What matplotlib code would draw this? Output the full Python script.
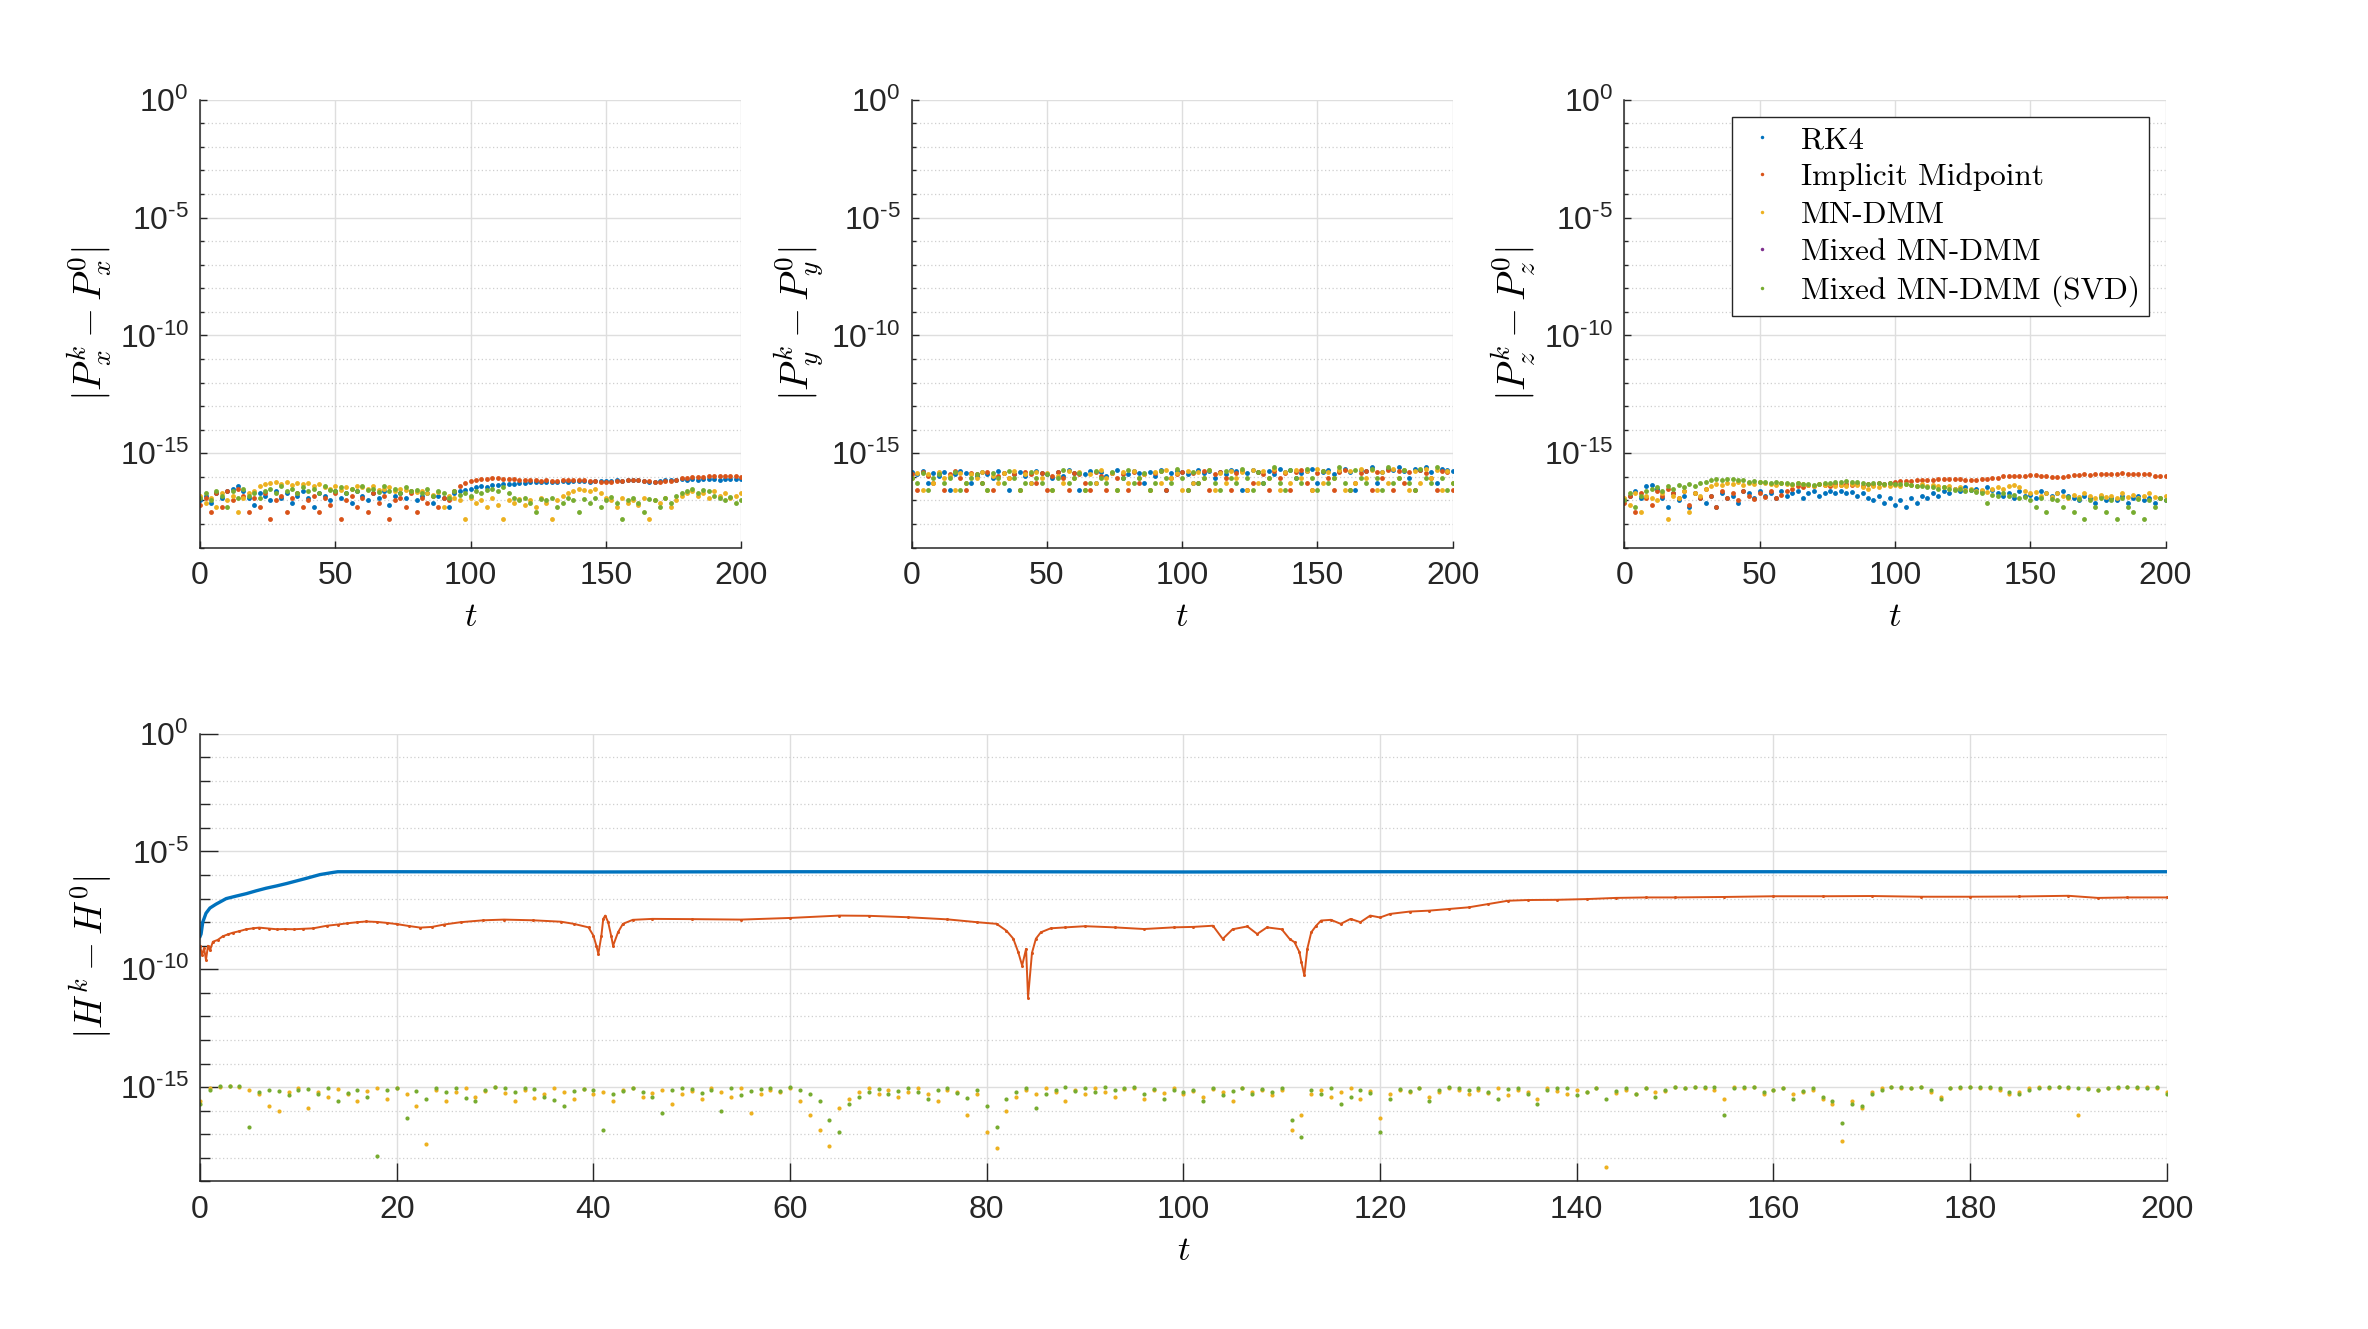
import numpy as np
import matplotlib
matplotlib.use("Agg")
import matplotlib.pyplot as plt
from matplotlib.lines import Line2D
from matplotlib.ticker import FixedLocator, FuncFormatter, NullFormatter

plt.rcParams['font.family'] = ['Liberation Sans', 'DejaVu Sans']
plt.rcParams['mathtext.fontset'] = 'custom'
plt.rcParams['mathtext.rm'] = 'Liberation Sans'
plt.rcParams['mathtext.it'] = 'Liberation Sans:italic'
plt.rcParams['axes.unicode_minus'] = False

# ---- data (log10 of the error) ----
methods = ['RK4', 'Implicit Midpoint', 'MN-DMM', 'Mixed MN-DMM', 'Mixed MN-DMM (SVD)']
colors = ['#0072BD', '#D95319', '#EDB120', '#7E2F8E', '#77AC30']

t_top = np.arange(0, 201, 2)

px_rk4 = [-17.0, -16.8, -17.1, -16.7, -16.9, -16.6, -16.5, -16.4, -16.6, -16.9,
          -17.2, -16.7, -16.8, -17.0, -16.6, -16.9, -16.7, -17.1, -16.8, -16.6,
          -16.9, -17.3, -16.7, -16.8, -17.0, -16.6, -16.9, -16.7, -17.1, -16.6,
          -16.8, -17.0, -16.7, -16.9, -16.6, -17.2, -16.8, -16.7, -16.9, -16.6,
          -17.0, -16.8, -16.7, -17.1, -16.8, -16.9, -17.3, -16.7, -16.6, -16.55,
          -16.5, -16.45, -16.4, -16.42, -16.36, -16.35, -16.32, -16.3, -16.29, -16.27,
          -16.25, -16.24, -16.22, -16.23, -16.21, -16.2, -16.22, -16.19, -16.2, -16.18,
          -16.19, -16.17, -16.2, -16.18, -16.16, -16.19, -16.17, -16.15, -16.16, -16.14,
          -16.15, -16.13, -16.16, -16.2, -16.22, -16.18, -16.14, -16.12, -16.13, -16.11,
          -16.12, -16.1, -16.12, -16.11, -16.09, -16.1, -16.12, -16.1, -16.09, -16.11,
          -16.1]
px_midpoint = [-17.2, -16.9, -17.5, -16.7, -17.3, -16.6, -17.0, -16.5, -16.8, -17.5,
               -16.9, -17.3, -16.7, -17.8, -17.0, -16.8, -17.5, -16.9, -16.7, -17.3,
               -17.0, -16.8, -17.5, -16.9, -17.2, -16.7, -17.8, -17.0, -16.8, -17.3,
               -16.9, -17.5, -16.7, -17.1, -16.8, -17.8, -17.0, -16.9, -17.3, -16.7,
               -17.5, -16.9, -17.1, -16.8, -17.3, -16.9, -17.0, -16.6, -16.4, -16.25,
               -16.19, -16.14, -16.1, -16.08, -16.07, -16.06, -16.08, -16.1, -16.11, -16.12,
               -16.13, -16.14, -16.15, -16.16, -16.15, -16.17, -16.16, -16.15, -16.14, -16.13,
               -16.12, -16.14, -16.16, -16.18, -16.2, -16.21, -16.2, -16.18, -16.16, -16.15,
               -16.14, -16.15, -16.17, -16.18, -16.2, -16.21, -16.19, -16.16, -16.12, -16.07,
               -16.04, -16.02, -16.0, -15.99, -15.98, -15.97, -15.96, -15.97, -15.96, -15.98,
               -16.0]
px_mndmm = [-16.8, -17.1, -16.9, -17.3, -16.7, -17.0, -16.8, -17.5, -16.9, -16.7,
            -16.6, -16.4, -16.3, -16.25, -16.2, -16.3, -16.22, -16.35, -16.28, -16.32,
            -16.25, -16.4, -16.3, -16.45, -16.5, -16.4, -16.55, -16.45, -16.5, -16.4,
            -16.45, -16.5, -16.4, -16.55, -16.5, -16.45, -16.6, -16.5, -16.55, -16.6,
            -16.65, -16.6, -16.7, -16.75, -16.65, -17.3, -16.8, -16.9, -17.0, -17.8,
            -16.9, -17.1, -17.0, -17.3, -16.9, -17.2, -17.8, -17.0, -17.1, -16.95,
            -17.2, -17.0, -17.3, -16.9, -17.1, -17.8, -17.0, -16.8, -16.7, -16.6,
            -16.5, -16.55, -16.6, -16.5, -16.7, -16.9, -17.0, -17.3, -16.9, -17.1,
            -17.0, -17.2, -16.9, -17.8, -17.0, -17.1, -16.9, -17.3, -17.0, -16.8,
            -16.7, -16.6, -16.8, -16.7, -16.9, -16.6, -16.8, -16.7, -16.9, -16.8,
            -16.7]
px_svd = [-16.9, -16.7, -17.0, -16.6, -16.8, -17.3, -16.6, -16.9, -16.5, -16.8,
          -16.7, -16.9, -16.6, -16.5, -16.7, -16.4, -16.6, -16.5, -16.7, -16.45,
          -16.6, -16.5, -16.7, -16.4, -16.55, -16.6, -16.45, -16.7, -16.5, -16.6,
          -16.4, -16.55, -16.5, -16.65, -16.4, -16.6, -16.5, -16.7, -16.45, -16.6,
          -16.55, -16.7, -16.5, -16.8, -16.6, -16.7, -16.9, -16.6, -16.75, -16.7,
          -16.8, -16.6, -16.7, -16.55, -16.5, -16.6, -16.45, -16.7, -16.9, -17.0,
          -16.9, -17.1, -17.5, -16.95, -17.0, -16.9, -17.3, -17.1, -16.9, -17.0,
          -17.5, -16.95, -17.1, -16.9, -17.3, -17.0, -16.85, -17.1, -17.8, -17.0,
          -16.9, -17.1, -17.5, -16.95, -17.0, -17.3, -16.9, -17.1, -16.8, -16.7,
          -16.6, -16.5, -16.7, -16.55, -16.6, -16.8, -16.9, -17.0, -16.85, -17.1,
          -17.0]

py_rk4 = [-15.8, -15.9, -15.75, -16.26, -15.85, -15.95, -15.8, -16.57, -15.9, -15.75,
          -15.85, -16.26, -15.95, -15.8, -15.9, -16.07, -15.75, -15.85, -16.57, -15.9,
          -15.8, -15.95, -16.26, -15.75, -15.85, -15.9, -16.07, -15.8, -15.95, -15.7,
          -15.85, -16.57, -15.9, -15.75, -16.26, -15.8, -15.95, -15.85, -15.7, -16.07,
          -15.9, -15.75, -15.85, -16.26, -15.8, -15.95, -15.7, -16.57, -15.85, -15.75,
          -15.8, -15.9, -16.26, -15.7, -15.85, -15.75, -16.07, -15.8, -15.9, -15.7,
          -15.75, -16.57, -15.85, -15.7, -15.8, -16.26, -15.75, -15.9, -15.65, -15.8,
          -15.7, -16.07, -15.85, -15.75, -15.65, -16.26, -15.8, -15.7, -15.9, -15.75,
          -15.65, -15.8, -16.57, -15.7, -15.75, -15.6, -16.26, -15.8, -15.65, -15.7,
          -15.6, -15.75, -16.07, -15.65, -15.7, -15.6, -15.8, -16.26, -15.65, -15.7,
          -15.75]
py_midpoint = [-15.9, -16.57, -15.8, -15.95, -16.26, -15.85, -16.57, -15.9, -15.75, -16.07,
               -16.57, -15.85, -15.9, -16.26, -15.8, -16.57, -15.95, -15.85, -16.07, -15.9,
               -16.57, -15.8, -15.9, -16.26, -15.85, -16.57, -15.95, -15.8, -16.07, -16.57,
               -15.85, -15.9, -16.26, -16.57, -15.8, -15.95, -16.57, -15.85, -16.07, -15.9,
               -16.57, -15.8, -16.26, -15.9, -16.57, -15.85, -15.75, -16.57, -16.07, -15.9,
               -15.8, -16.57, -15.85, -16.26, -15.75, -16.57, -15.9, -15.8, -16.07, -16.57,
               -15.85, -15.75, -16.57, -16.26, -15.8, -15.9, -16.57, -15.75, -16.07, -15.85,
               -16.57, -15.8, -15.7, -16.26, -16.57, -15.85, -15.75, -16.07, -16.57, -15.8,
               -15.7, -16.57, -16.26, -15.85, -15.75, -16.57, -15.8, -16.07, -15.7, -16.57,
               -15.75, -16.26, -15.8, -16.57, -15.7, -15.85, -16.07, -16.57, -15.75, -15.8,
               -16.57]
py_mndmm = [-16.07, -15.85, -16.57, -15.9, -16.26, -15.8, -16.07, -15.95, -16.57, -15.85,
            -16.26, -15.9, -16.07, -15.8, -16.57, -15.95, -16.26, -15.85, -16.07, -15.75,
            -16.57, -15.9, -16.26, -15.8, -16.07, -15.85, -16.57, -15.95, -16.26, -15.75,
            -16.07, -15.8, -16.57, -15.9, -16.26, -15.7, -16.07, -15.85, -16.57, -15.8,
            -16.26, -15.75, -16.07, -15.9, -16.57, -15.8, -16.26, -15.7, -16.07, -15.85,
            -16.57, -15.75, -16.26, -15.8, -16.07, -15.7, -16.57, -15.85, -16.26, -15.75,
            -16.07, -15.8, -16.57, -15.7, -16.26, -15.75, -16.07, -15.65, -16.57, -15.8,
            -16.26, -15.7, -16.07, -15.75, -16.57, -15.65, -16.26, -15.8, -16.07, -15.7,
            -16.57, -15.75, -16.26, -15.65, -16.07, -15.7, -16.57, -15.8, -16.26, -15.65,
            -16.07, -15.7, -16.57, -15.75, -16.26, -15.65, -16.07, -15.7, -16.57, -15.75,
            -16.26]
py_svd = [-16.07, -16.26, -15.85, -16.57, -16.07, -15.9, -16.26, -16.07, -15.8, -16.57,
          -16.26, -16.07, -15.9, -16.26, -16.57, -15.85, -16.07, -16.26, -15.75, -16.07,
          -16.57, -16.26, -15.8, -16.07, -16.26, -15.9, -16.57, -16.07, -15.7, -16.26,
          -16.07, -15.85, -16.57, -16.26, -15.75, -16.07, -16.26, -15.8, -16.57, -16.07,
          -15.7, -16.26, -16.07, -15.85, -16.57, -16.26, -15.75, -16.07, -16.26, -15.65,
          -16.07, -16.57, -15.8, -16.26, -16.07, -15.7, -16.26, -16.57, -15.75, -16.07,
          -16.26, -15.65, -16.07, -16.57, -15.8, -16.26, -16.07, -15.6, -16.26, -16.57,
          -15.7, -16.07, -16.26, -15.65, -16.07, -16.57, -15.75, -16.26, -16.07, -15.6,
          -16.26, -16.57, -15.7, -16.07, -16.26, -15.65, -16.07, -16.57, -15.6, -16.26,
          -16.07, -15.7, -16.26, -16.57, -15.65, -16.07, -16.26, -15.6, -16.07, -16.57,
          -16.26]

pz_rk4 = [-17.0, -16.8, -16.6, -16.9, -16.4, -16.35, -16.5, -16.9, -17.3, -16.7,
          -17.0, -16.8, -17.3, -16.7, -16.9, -17.1, -16.8, -17.3, -16.7, -16.9,
          -16.8, -17.1, -16.6, -16.7, -16.9, -16.6, -16.8, -16.7, -16.9, -16.6,
          -16.8, -16.7, -16.6, -16.9, -16.7, -16.6, -16.8, -16.7, -16.6, -16.7,
          -16.6, -16.7, -16.65, -16.8, -16.7, -16.9, -17.0, -16.8, -17.1, -16.9,
          -17.2, -17.0, -17.3, -16.9, -17.1, -16.8, -16.9, -16.7, -16.8, -16.6,
          -16.7, -16.5, -16.6, -16.45, -16.55, -16.5, -16.6, -16.45, -16.55, -16.7,
          -16.8, -16.7, -16.9, -16.6, -16.8, -16.75, -16.9, -16.6, -16.7, -16.8,
          -16.7, -16.6, -16.8, -16.9, -17.0, -16.8, -16.9, -17.1, -16.8, -17.0,
          -16.9, -17.0, -16.8, -17.1, -16.9, -16.8, -17.0, -16.9, -17.1, -16.9,
          -17.0]
pz_midpoint = [-17.1, -16.8, -17.5, -16.7, -16.9, -17.2, -16.6, -16.8, -16.5, -16.7,
               -16.9, -16.6, -17.2, -16.7, -16.9, -16.5, -16.8, -17.3, -16.6, -16.9,
               -16.7, -17.0, -16.6, -16.8, -16.95, -16.7, -16.85, -16.6, -16.9, -16.75,
               -16.6, -16.5, -16.4, -16.45, -16.35, -16.4, -16.3, -16.35, -16.4, -16.3,
               -16.35, -16.3, -16.35, -16.3, -16.4, -16.3, -16.35, -16.28, -16.3, -16.25,
               -16.2, -16.19, -16.17, -16.16, -16.14, -16.13, -16.12, -16.14, -16.1, -16.11,
               -16.1, -16.11, -16.09, -16.13, -16.15, -16.12, -16.1, -16.08, -16.05, -16.03,
               -15.98, -15.97, -15.96, -15.95, -15.96, -15.94, -15.93, -15.95, -15.97, -16.0,
               -16.01, -15.99, -15.97, -15.94, -15.92, -15.9, -15.91, -15.89, -15.88, -15.87,
               -15.86, -15.86, -15.85, -15.87, -15.86, -15.88, -15.87, -15.9, -15.95, -15.96,
               -15.96]
pz_mndmm = [-16.9, -17.2, -16.7, -17.5, -16.8, -16.9, -17.0, -16.7, -17.8, -16.8,
            -16.9, -16.6, -17.5, -16.7, -16.8, -16.5, -16.4, -16.3, -16.35, -16.25,
            -16.3, -16.2, -16.35, -16.25, -16.3, -16.2, -16.28, -16.3, -16.35, -16.25,
            -16.3, -16.35, -16.28, -16.3, -16.35, -16.4, -16.3, -16.35, -16.3, -16.4,
            -16.35, -16.4, -16.3, -16.35, -16.45, -16.5, -16.4, -16.45, -16.35, -16.4,
            -16.35, -16.4, -16.3, -16.35, -16.4, -16.3, -16.38, -16.35, -16.4, -16.45,
            -16.4, -16.5, -16.45, -16.55, -16.5, -16.6, -16.55, -16.65, -16.5, -16.45,
            -16.5, -16.4, -16.35, -16.45, -16.6, -16.7, -16.65, -16.8, -16.7, -16.85,
            -16.7, -16.8, -16.9, -16.75, -16.85, -16.7, -16.8, -16.9, -16.75, -16.85,
            -16.8, -16.9, -16.7, -16.85, -16.75, -16.9, -16.8, -16.7, -16.85, -16.9,
            -16.8]
pz_svd = [-17.0, -16.7, -17.3, -16.8, -16.6, -16.5, -16.45, -16.6, -16.4, -16.5,
          -16.35, -16.45, -16.3, -16.4, -16.25, -16.2, -16.15, -16.1, -16.12, -16.08,
          -16.1, -16.15, -16.12, -16.2, -16.18, -16.22, -16.2, -16.25, -16.22, -16.28,
          -16.25, -16.3, -16.28, -16.32, -16.3, -16.35, -16.3, -16.28, -16.25, -16.2,
          -16.22, -16.18, -16.2, -16.22, -16.25, -16.3, -16.28, -16.25, -16.3, -16.28,
          -16.3, -16.32, -16.3, -16.35, -16.4, -16.38, -16.45, -16.42, -16.5, -16.45,
          -16.5, -16.55, -16.5, -16.6, -16.55, -16.65, -16.7, -17.1, -16.75, -16.8,
          -16.7, -16.8, -16.75, -16.9, -16.85, -17.0, -17.3, -16.9, -17.5, -16.95,
          -17.0, -17.3, -16.85, -17.5, -16.95, -17.8, -17.0, -17.3, -16.9, -17.5,
          -17.0, -17.8, -16.9, -17.3, -17.5, -16.95, -17.8, -17.0, -17.3, -16.9,
          -17.0]

# energy error: (t, log10 value) points for the two smooth curves
h_rk4 = [(0, -8.6), (0.1, -8.5), (0.27, -8.0), (0.6, -7.62), (1.0, -7.4), (1.6, -7.24),
         (2.65, -7.0), (3.6, -6.9), (4.7, -6.79), (5.7, -6.67), (6.7, -6.56), (7.8, -6.46),
         (8.8, -6.36), (9.8, -6.25), (10.8, -6.14), (12.2, -5.98), (13.5, -5.89), (14.0, -5.86),
         (20, -5.86), (40, -5.87), (60, -5.86), (80, -5.86), (100, -5.87), (120, -5.86),
         (140, -5.86), (160, -5.86), (180, -5.87), (200, -5.86)]
h_midpoint = [(0, -9.0), (0.2, -9.4), (0.4, -9.1), (0.6, -9.6), (0.8, -9.0), (1.0, -9.2),
              (1.3, -8.83), (1.8, -8.75), (2.3, -8.6), (2.8, -8.52), (3.3, -8.45), (4.0, -8.38),
              (4.7, -8.3), (5.4, -8.26), (6.0, -8.23), (7.0, -8.27), (7.8, -8.3), (8.6, -8.29),
              (9.5, -8.3), (10.5, -8.28), (11.5, -8.26), (12.9, -8.15), (14.0, -8.1), (14.9, -8.05),
              (16.0, -8.0), (16.9, -7.97), (18.0, -7.99), (19.0, -8.03), (20.0, -8.08), (21.2, -8.16),
              (22.4, -8.23), (23.6, -8.2), (24.8, -8.1), (26.5, -8.0), (28.8, -7.92), (30.9, -7.89),
              (33.9, -7.92), (36.7, -7.98), (38.0, -8.07), (39.5, -8.22), (40.0, -8.57), (40.3, -9.0),
              (40.5, -9.34), (40.8, -8.6), (41.0, -7.86), (41.2, -7.72), (41.5, -8.0), (41.8, -8.57),
              (42.0, -9.0), (42.5, -8.43), (43.0, -8.07), (44.0, -7.9), (46.0, -7.86), (50.0, -7.87),
              (55.0, -7.89), (60.0, -7.82), (65.0, -7.72), (68.0, -7.73), (72.0, -7.79), (76.0, -7.88),
              (79.0, -8.0), (81.0, -8.07), (82.0, -8.36), (82.7, -8.7), (83.2, -9.27), (83.6, -9.84),
              (84.0, -9.13), (84.2, -11.2), (84.6, -9.3), (85.0, -8.7), (85.5, -8.43), (86.5, -8.26),
              (88.0, -8.22), (90.0, -8.17), (93.0, -8.22), (96.0, -8.29), (99.0, -8.22), (101.0, -8.2),
              (103.0, -8.15), (104.0, -8.71), (105.0, -8.3), (106.5, -8.18), (107.5, -8.5), (108.5, -8.22),
              (110.0, -8.3), (110.8, -8.71), (111.3, -8.85), (111.8, -9.27), (112.0, -9.7), (112.3, -10.26),
              (112.6, -9.13), (113.0, -8.43), (113.5, -8.15), (114.0, -7.93), (115.0, -7.9), (116.0, -8.07),
              (117.0, -7.86), (118.0, -8.0), (119.0, -7.72), (120.0, -7.8), (121.0, -7.65), (123.0, -7.55),
              (125.0, -7.51), (127.0, -7.44), (129.0, -7.37), (131.0, -7.23), (133.0, -7.09), (135.0, -7.06),
              (138.0, -7.05), (141.0, -7.02), (144.0, -6.97), (147.0, -6.95), (150.0, -6.95), (155.0, -6.93),
              (160.0, -6.9), (165.0, -6.9), (170.0, -6.89), (175.0, -6.92), (180.0, -6.92), (185.0, -6.91),
              (190.0, -6.88), (193.0, -6.97), (196.0, -6.95), (200.0, -6.95)]

t_bottom = np.arange(0, 201, 1)
h_mndmm = [-15.6, -15.05, -14.98, -14.97, -14.98, -15.1, -15.3, -15.8, -16.0, -15.2,
           -15.05, -15.9, -15.2, -15.4, -15.08, -15.3, -15.6, -15.15, -15.05, -15.5,
           -15.02, -15.3, -15.8, -17.4, -15.1, -15.6, -15.2, -15.03, -15.4, -15.15,
           -15.0, -15.25, -15.6, -15.1, -15.45, -15.3, -15.04, -15.2, -15.5, -15.06,
           -15.3, -15.2, -15.6, -15.1, -15.05, -15.4, -15.25, -15.1, -15.7, -15.3,
           -15.15, -15.5, -15.05, -15.2, -15.4, -15.02, -16.1, -15.3, -15.1, -15.2,
           -15.05, -15.6, -16.2, -16.8, -17.5, -15.9, -15.5, -15.2, -15.05, -15.3,
           -15.1, -15.4, -15.2, -15.05, -15.3, -15.6, -15.1, -15.2, -16.2, -15.3,
           -16.9, -17.6, -16.0, -15.4, -15.1, -15.3, -15.05, -15.2, -15.6, -15.1,
           -15.3, -15.05, -15.2, -15.4, -15.08, -15.02, -15.5, -15.1, -15.25, -15.05,
           -15.3, -15.15, -15.4, -15.08, -15.2, -15.6, -15.05, -15.2, -15.1, -15.35,
           -15.1, -16.8, -16.2, -15.3, -15.1, -15.4, -15.2, -15.05, -15.5, -15.15,
           -16.3, -15.3, -15.1, -15.2, -15.05, -15.4, -15.2, -15.04, -15.1, -15.3,
           -15.1, -15.25, -15.05, -15.35, -15.1, -15.2, -15.5, -15.05, -15.15, -15.3,
           -15.1, -15.2, -15.05, -18.4, -15.25, -15.1, -15.3, -15.05, -15.2, -15.15,
           -15.0, -15.03, -14.99, -15.05, -15.1, -15.5, -15.0, -15.02, -14.98, -15.3,
           -15.1, -15.05, -15.3, -15.2, -15.1, -15.5, -15.7, -17.3, -15.6, -15.9,
           -15.2, -15.05, -15.0, -15.02, -15.04, -15.01, -15.2, -15.4, -15.05, -15.02,
           -15.0, -15.03, -15.02, -15.1, -15.3, -15.2, -15.05, -15.0, -15.02, -15.01,
           -15.02, -16.2, -15.05, -15.1, -15.03, -15.02, -15.0, -15.04, -15.01, -15.02,
           -15.2]
h_svd = [-15.7, -15.1, -14.97, -14.97, -14.97, -16.7, -15.2, -15.1, -15.15, -15.35,
         -15.1, -15.08, -15.3, -15.05, -15.6, -15.25, -15.12, -15.4, -17.9, -15.1,
         -15.05, -16.3, -15.15, -15.5, -15.03, -15.2, -15.02, -15.45, -15.6, -15.12,
         -14.99, -15.05, -15.2, -15.04, -15.08, -15.4, -15.55, -15.8, -15.15, -15.07,
         -15.1, -16.8, -15.3, -15.15, -15.05, -15.2, -15.4, -16.1, -15.1, -15.03,
         -15.08, -15.25, -15.12, -16.0, -15.02, -15.35, -15.18, -15.06, -15.02, -15.15,
         -14.99, -15.1, -15.3, -15.6, -16.4, -16.9, -15.7, -15.4, -15.2, -15.08,
         -15.3, -15.15, -15.05, -15.22, -15.5, -15.1, -15.03, -15.25, -15.45, -15.1,
         -15.8, -16.7, -15.5, -15.2, -15.05, -15.9, -15.3, -15.1, -15.0, -15.15,
         -15.04, -15.2, -15.0, -15.1, -15.02, -14.98, -15.3, -15.06, -15.5, -15.1,
         -15.2, -15.1, -15.6, -15.03, -15.35, -15.15, -15.04, -15.3, -15.08, -15.2,
         -15.02, -16.4, -17.1, -15.1, -15.3, -15.05, -15.7, -15.4, -15.1, -15.25,
         -16.9, -15.5, -15.08, -15.15, -15.03, -15.6, -15.1, -15.0, -15.05, -15.1,
         -15.04, -15.2, -15.5, -15.06, -15.02, -15.3, -15.7, -15.1, -15.03, -15.05,
         -15.35, -15.2, -15.04, -15.5, -15.15, -15.05, -15.3, -15.02, -15.4, -15.1,
         -14.99, -15.02, -14.98, -15.0, -15.01, -16.2, -15.03, -14.99, -15.0, -15.2,
         -15.1, -15.02, -15.5, -15.15, -15.05, -15.4, -15.6, -16.5, -15.7, -15.8,
         -15.3, -15.1, -14.98, -14.99, -15.02, -15.0, -15.1, -15.5, -15.02, -15.0,
         -14.99, -15.01, -15.0, -15.05, -15.2, -15.3, -15.1, -15.02, -15.0, -14.99,
         -15.0, -15.02, -15.06, -15.1, -15.04, -15.0, -14.99, -15.01, -15.02, -15.0,
         -15.3]
# Mixed MN-DMM lies under the SVD variant everywhere
h_mixed = h_svd
px_mixed, py_mixed, pz_mixed = px_svd, py_svd, pz_svd

top_panels = [
    ([px_rk4, px_midpoint, px_mndmm, px_mixed, px_svd], r'$|P_x^k - P_x^0|$'),
    ([py_rk4, py_midpoint, py_mndmm, py_mixed, py_svd], r'$|P_y^k - P_y^0|$'),
    ([pz_rk4, pz_midpoint, pz_mndmm, pz_mixed, pz_svd], r'$|P_z^k - P_z^0|$'),
]


def decade_label(v, pos):
    e = int(round(np.log10(v)))
    if e < 0:
        return r'$\mathdefault{10^{\text{-}%d}}$' % (-e)
    return r'$\mathdefault{10^{%d}}$' % e


def style_axes(ax, xticks, major_len, minor_len):
    ax.set_yscale('log')
    ax.set_ylim(1e-19, 1)
    ax.set_xlim(0, 200)
    ax.yaxis.set_major_locator(FixedLocator([1e-15, 1e-10, 1e-5, 1]))
    ax.yaxis.set_minor_locator(FixedLocator(10.0 ** np.arange(-19, 1)))
    ax.yaxis.set_major_formatter(FuncFormatter(decade_label))
    ax.yaxis.set_minor_formatter(NullFormatter())
    ax.set_xticks(xticks)
    for side in ['top', 'right']:
        ax.spines[side].set_visible(False)
    for side in ['left', 'bottom']:
        ax.spines[side].set_linewidth(1.1)
        ax.spines[side].set_color('#262626')
    ax.tick_params(which='both', direction='in', colors='#262626', labelsize=23, width=1.0)
    ax.tick_params(which='major', length=major_len)
    ax.tick_params(which='minor', length=minor_len)
    ax.tick_params(axis='x', pad=10)
    ax.tick_params(axis='y', pad=8)
    ax.grid(which='major', color='#dedede', lw=1.0)
    ax.grid(which='minor', axis='y', color='#cfcfcf', lw=0.9, ls=(0, (1, 2)))
    ax.set_axisbelow(True)


# the hidden Mixed MN-DMM dots are drawn a bit smaller so the SVD dots cover them
marker_scale = [1.0, 1.0, 1.0, 0.6, 1.0]

fig = plt.figure(figsize=(23.68, 13.29), dpi=100)

lefts = [0.0845, 0.385, 0.686]
for left, (series, ylab) in zip(lefts, top_panels):
    ax = fig.add_axes([left, 0.588, 0.2285, 0.337])
    for vals, c, k in zip(series, colors, marker_scale):
        ax.plot(t_top, 10.0 ** np.array(vals), 'o', color=c, ms=3.5 * k, mew=0)
    style_axes(ax, [0, 50, 100, 150, 200], 5, 3)
    ax.set_xlabel(r'$t$', fontsize=25, math_fontfamily='cm', labelpad=6)
    ax.set_ylabel(ylab, fontsize=28, math_fontfamily='cm', labelpad=4)
    if left == lefts[-1]:
        handles = [Line2D([], [], ls='none', marker='o', ms=2.5, mew=0, color=c) for c in colors]
        leg = ax.legend(handles, methods, loc='upper right', bbox_to_anchor=(0.97, 0.962),
                        borderaxespad=0, prop={'family': 'cmr10', 'size': 22.5},
                        frameon=True, fancybox=False, framealpha=1, edgecolor='#262626',
                        handlelength=1.3, handletextpad=0.6, labelspacing=0.3,
                        borderpad=0.3)
        leg.get_frame().set_linewidth(1.0)

axb = fig.add_axes([0.0845, 0.111, 0.8305, 0.337])
rk_t, rk_v = zip(*h_rk4)
axb.plot(rk_t, 10.0 ** np.array(rk_v), '-', color=colors[0], lw=2.4)
im_t, im_v = zip(*h_midpoint)
axb.plot(im_t, 10.0 ** np.array(im_v), '-', color=colors[1], lw=1.4, marker='o', ms=2.2, mew=0)
axb.plot(t_bottom, 10.0 ** np.array(h_mndmm), 'o', color=colors[2], ms=3.0, mew=0)
axb.plot(t_bottom, 10.0 ** np.array(h_mixed), 'o', color=colors[3], ms=3.0 * marker_scale[3], mew=0)
axb.plot(t_bottom, 10.0 ** np.array(h_svd), 'o', color=colors[4], ms=3.0, mew=0)
style_axes(axb, np.arange(0, 201, 20), 13, 7)
axb.set_xlabel(r'$t$', fontsize=25, math_fontfamily='cm', labelpad=6)
axb.set_ylabel(r'$|H^k - H^0|$', fontsize=27, math_fontfamily='cm', labelpad=4)

fig.savefig('out.png', dpi=100)
